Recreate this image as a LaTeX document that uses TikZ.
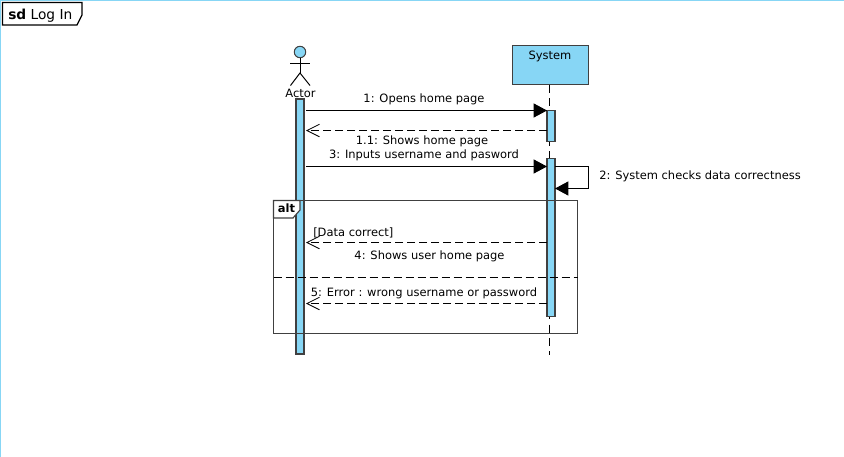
\documentclass[tikz,border=0pt]{standalone}
\usepackage{fontspec}
\setmainfont{DejaVu Sans}
\usetikzlibrary{positioning,arrows.meta}
\definecolor{skyfill}{HTML}{87D6F5}
\definecolor{edgegray}{HTML}{404040}
\begin{document}
\begin{tikzpicture}[x=0.75pt,y=-0.75pt,font=\fontsize{8.6}{10}\selectfont]
	\tikzstyle{bar}
	  =[draw=edgegray, fill=skyfill, rectangle, minimum width=6pt, inner sep=0pt, line width=0.9pt]
	\tikzstyle{label}
	  =[inner sep=0pt, text height=8.4pt, text depth=1.6pt]
	\tikzstyle{call}
	  =[-{Triangle[length=10pt,width=10.5pt]}, line width=0.75pt]
	\tikzstyle{reply}
	  =[-{Straight Barb[length=9.5pt,width=9.5pt,line width=0.6pt]}, line width=0.75pt, dash pattern=on 6pt off 3pt]

	\useasboundingbox (0,0) rectangle (844,457);
	\draw[skyfill,line width=0.9pt] (0.5,457)--(0.5,0.5)--(844,0.5);

	% diagram tab
	\draw[line width=0.9pt,fill=white] (2.5,2.5)--(82,2.5)--(82,15)--(77,25)--(2.5,25)--cycle;
	\node[label,anchor=west] (tab) at (8,14.5) {\fontsize{10.3}{12}\selectfont\textbf{sd} Log In};

	% lifelines
	\node[draw=edgegray,fill=skyfill,rectangle,line width=0.9pt,minimum width=57pt,minimum height=28.7pt,inner sep=0pt] (system) at (550.3,65) {};
	\node[label] (system_name) at (550,55) {System};
	\coordinate (system_end) at (549.5,355);
	\draw[line width=0.75pt,dash pattern=on 6pt off 4pt] (system.south -| system_end)--(system_end);

	\node[draw=edgegray,fill=skyfill,circle,minimum size=8.6pt,inner sep=0pt,line width=0.75pt] (head) at (300,52) {};
	\coordinate (hip) at (300,73);
	\coordinate (arm_l) at (290,63.5);
	\coordinate (arm_r) at (310,63.5);
	\coordinate (foot_l) at (290.5,85.5);
	\coordinate (foot_r) at (310,85.5);
	\draw[line width=0.75pt] (head)--(hip);
	\draw[line width=0.75pt] (arm_l)--(arm_r);
	\draw[line width=0.75pt] (foot_l)--(hip)--(foot_r);
	\node[label] (actor_name) at (300.5,92.7) {Actor};

	\node[bar,minimum height=191.25pt] (actor_bar) at (300,226.5) {};
	\node[bar,minimum height=23.7pt] (sys_bar1) at (551,126) {};
	\node[bar,minimum height=118.9pt] (sys_bar2) at (551,237.4) {};

	% messages
	\coordinate (m1_a) at (306,110.5);
	\coordinate (m1_b) at (547,110.5);
	\coordinate (m2_a) at (547,130.5);
	\coordinate (m2_b) at (306,130.5);
	\coordinate (m3_a) at (306,166.5);
	\coordinate (m3_b) at (547,166.5);
	\coordinate (s1) at (555,166.5);
	\coordinate (s2) at (588.5,166.5);
	\coordinate (s3) at (588.5,188.5);
	\coordinate (s4) at (555,188.5);
	\coordinate (m4_a) at (547,242.5);
	\coordinate (m4_b) at (306,242.5);
	\coordinate (m5_a) at (547,303.5);
	\coordinate (m5_b) at (306,303.5);

	\draw[call] (m1_a)--(m1_b);
	\draw[reply] (m2_a)--(m2_b);
	\draw[call] (m3_a)--(m3_b);
	\draw[call] (s1)--(s2)--(s3)--(s4);
	\draw[reply] (m4_a)--(m4_b);
	\draw[reply] (m5_a)--(m5_b);

	\node[label] (m1_text) at (424,98) {1: Opens home page};
	\node[label] (m2_text) at (422,140) {1.1: Shows home page};
	\node[label] (m3_text) at (424,154) {3: Inputs username and pasword};
	\node[label,anchor=west] (s_text) at (599,175) {2: System checks data correctness};
	\node[label] (m4_text) at (429.5,255) {4: Shows user home page};
	\node[label] (m5_text) at (424,292) {5: Error : wrong username or password};
	\node[label,anchor=west] (guard) at (313,231.5) {[Data correct]};

	% alt fragment
	\coordinate (alt_nw) at (273.5,200.5);
	\coordinate (alt_se) at (577.5,333.5);
	\coordinate (div_l) at (273.5,277.5);
	\coordinate (div_r) at (577.5,277.5);
	\draw[edgegray,line width=0.85pt] (alt_nw) rectangle (alt_se);
	\draw[line width=0.75pt,dash pattern=on 6pt off 3pt] (div_l)--(div_r);
	\draw[edgegray,line width=0.85pt,fill=white] (273.5,200.5)--(300,200.5)--(300,210)--(293,218)--(273.5,218)--cycle;
	\node[label] (alt_text) at (286.5,207.5) {\textbf{alt}};
\end{tikzpicture}
\end{document}
